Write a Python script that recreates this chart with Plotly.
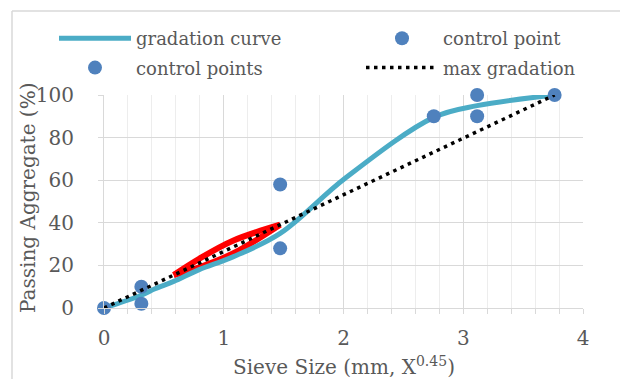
import plotly.graph_objects as go

# ---- data (x axis is sieve size in mm raised to 0.45) ----
curve_x = [0, 0.312, 0.426, 0.582, 0.795, 1.077, 1.471, 2.016, 2.754, 3.116, 3.763]
curve_y = [0, 6, 9, 12.5, 18, 24, 35, 61, 89.5, 95, 100]

cp_upper_x = [0, 0.312, 1.471, 2.754, 3.116]
cp_upper_y = [0, 10, 58, 90, 100]
cp_lower_x = [0.312, 1.471, 3.116, 3.763]
cp_lower_y = [2, 28, 90, 100]

max_x = [0, 3.763]
max_y = [0, 100]

rz_x = [0.582, 0.795, 1.077, 1.471]
rz_upper = [15.5, 23.1, 31.6, 39.1]
rz_lower = [15.5, 19.1, 25.6, 39.1]

x_ticks = [0, 1, 2, 3, 4]
y_ticks = [0, 20, 40, 60, 80, 100]

BLUE = "#4BACC6"
MARK = "#4F81BD"
TXT = "#595959"
GRID = "#D9D9D9"
FONT = "DejaVu Serif"

fig = go.Figure()

fig.add_trace(go.Scatter(x=rz_x, y=rz_upper, mode="lines", line=dict(color="#FF0000", width=6, shape="spline"),
                         showlegend=False, hoverinfo="skip"))
fig.add_trace(go.Scatter(x=rz_x, y=rz_lower, mode="lines", line=dict(color="#FF0000", width=6, shape="spline"),
                         showlegend=False, hoverinfo="skip"))

fig.add_trace(go.Scatter(x=curve_x, y=curve_y, mode="lines", name="gradation curve",
                         legend="legend", legendgroup="g1",
                         line=dict(color=BLUE, width=5, shape="spline", smoothing=1.0)))
fig.add_trace(go.Scatter(x=cp_lower_x, y=cp_lower_y, mode="markers", name="control points",
                         legend="legend", legendgroup="g2", cliponaxis=False,
                         marker=dict(color=MARK, size=14)))
fig.add_trace(go.Scatter(x=cp_upper_x, y=cp_upper_y, mode="markers", name="control point",
                         legend="legend2", legendgroup="g3", cliponaxis=False,
                         marker=dict(color=MARK, size=14)))
fig.add_trace(go.Scatter(x=max_x, y=max_y, mode="lines", name="max gradation",
                         legend="legend2", legendgroup="g4",
                         line=dict(color="black", width=3.5, dash="3.5px,4.5px")))

# chart-area border (top and left visible)
def px_to_paper_x(px):
    return (px - 104) / 479.0

def py_to_paper_y(py):
    return (308 - py) / 213.0

fig.add_shape(type="line", xref="paper", yref="paper",
              x0=px_to_paper_x(12), x1=px_to_paper_x(640), y0=py_to_paper_y(11), y1=py_to_paper_y(11),
              line=dict(color=GRID, width=1.5))
fig.add_shape(type="line", xref="paper", yref="paper",
              x0=px_to_paper_x(12), x1=px_to_paper_x(12), y0=py_to_paper_y(11), y1=py_to_paper_y(400),
              line=dict(color=GRID, width=1.5))

# axis titles
fig.add_annotation(text="Sieve Size (mm, X<sup>0.45</sup>)", xref="paper", yref="paper",
                   x=0.5, y=py_to_paper_y(366), xanchor="center", yanchor="middle", showarrow=False,
                   font=dict(family=FONT, size=20, color=TXT))
fig.add_annotation(text="Passing Aggregate (%)", xref="paper", yref="paper", textangle=-90,
                   x=px_to_paper_x(28), y=py_to_paper_y(198), xanchor="center", yanchor="middle", showarrow=False,
                   font=dict(family=FONT, size=20, color=TXT))

leg_common = dict(orientation="v", xref="container", yref="container", xanchor="left", yanchor="top",
                  itemwidth=72, font=dict(family=FONT, size=18, color=TXT),
                  bgcolor="rgba(0,0,0,0)", tracegroupgap=3)

fig.update_layout(
    width=620, height=379,
    margin=dict(l=104, r=37, t=95, b=71, autoexpand=False),
    paper_bgcolor="white", plot_bgcolor="white",
    font=dict(family=FONT, color=TXT, size=20),
    legend=dict(x=54 / 620, y=1 - 20 / 379, **leg_common),
    legend2=dict(x=361 / 620, y=1 - 20 / 379, **leg_common),
    xaxis=dict(range=[0, 4], tickvals=x_ticks, showgrid=True, gridcolor=GRID, gridwidth=1,
               showline=True, linecolor=GRID, linewidth=1, ticks="outside", ticklen=5, tickcolor=GRID,
               ticklabelstandoff=7, zeroline=False, automargin=False,
               minor=dict(dtick=0.2, showgrid=True, gridcolor="#EDEDED", ticks="outside", ticklen=5, tickcolor=GRID),
               tickfont=dict(family=FONT, size=20, color=TXT)),
    yaxis=dict(range=[0, 100], tickvals=y_ticks, showgrid=True, gridcolor=GRID, gridwidth=1,
               showline=True, linecolor=GRID, linewidth=1, ticks="outside", ticklen=5, tickcolor=GRID,
               ticklabelstandoff=20, zeroline=False, automargin=False,
               tickfont=dict(family=FONT, size=20, color=TXT)),
)

fig.write_html("out.html")
